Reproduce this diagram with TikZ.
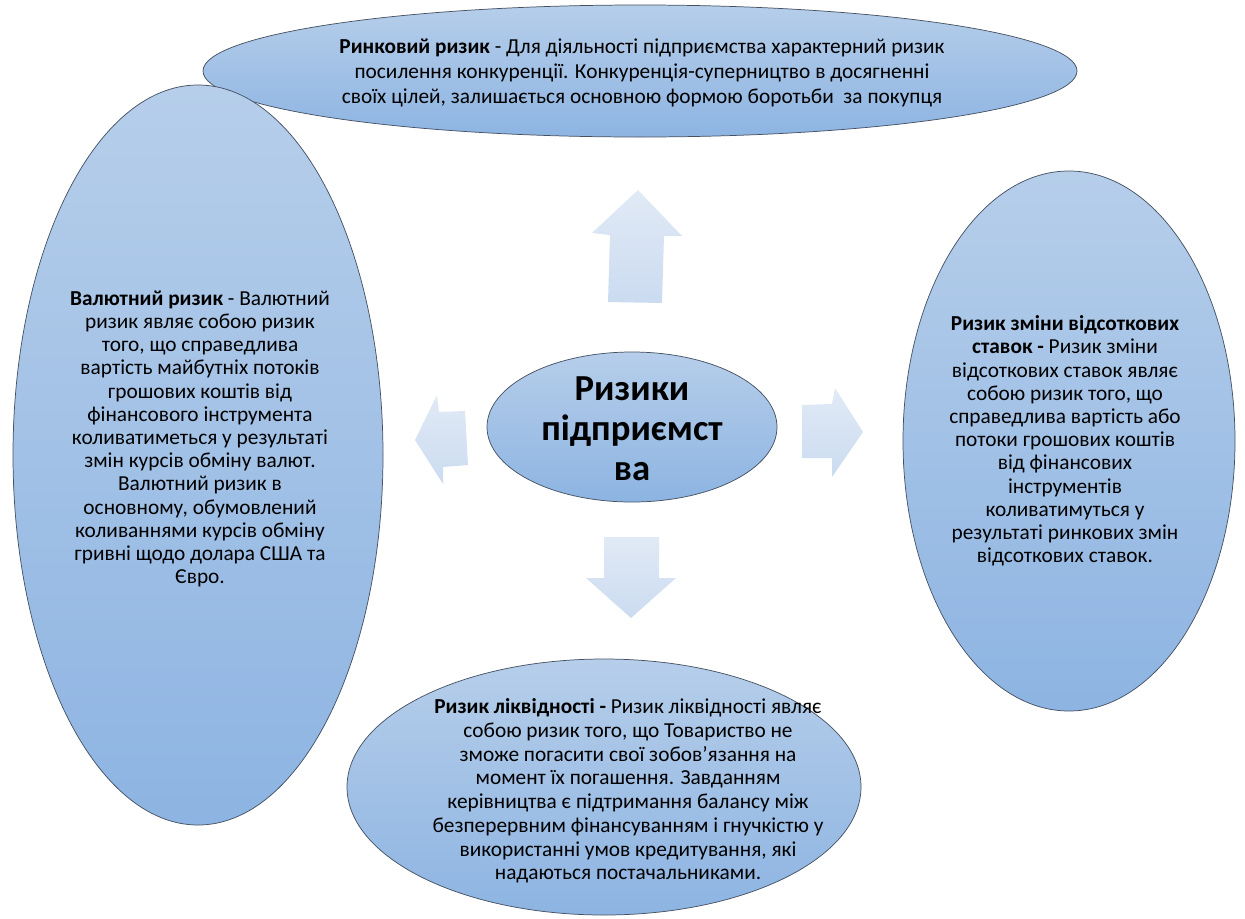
\documentclass[tikz,border=0pt]{standalone}
\usepackage{fontspec}
\setmainfont{Carlito}
\usetikzlibrary{shapes.geometric}
\definecolor{elltop}{RGB}{182,206,234}
\definecolor{ellbot}{RGB}{141,180,226}
\definecolor{ellline}{RGB}{70,82,100}
\definecolor{arrtop}{RGB}{225,234,246}
\definecolor{arrbot}{RGB}{203,219,240}
\tikzset{
  riskell/.style={ellipse, draw=ellline, line width=0.55pt, top color=elltop, bottom color=ellbot, inner sep=0pt},
  risktext/.style={align=center, inner sep=0pt, font=\fontsize{16}{17.4}\selectfont},
  bigarrow/.style={top color=arrtop, bottom color=arrbot, draw=none}
}
\begin{document}
\begin{tikzpicture}[x=0.75pt,y=-0.75pt]
\useasboundingbox (0,0) rectangle (1245,918);
% ellipses
\node[riskell, minimum width=655.5pt, minimum height=99pt] (market) at (640,71) {};
\node[riskell, minimum width=277.5pt, minimum height=555pt] (currency) at (198,455) {};
\node[riskell, minimum width=249pt, minimum height=405pt] (interest) at (1069,441) {};
\node[riskell, minimum width=385.5pt, minimum height=192pt] (liquidity) at (604,787) {};
\node[riskell, minimum width=217.5pt, minimum height=112.5pt] (center) at (632,427) {};
% block arrows
\path[bigarrow] (638,190) -- (682,236) -- (664,236) -- (662,303) -- (608,302) -- (610,235) -- (592,233) -- cycle;
\path[bigarrow] (863,432) -- (832,477) -- (832,458) -- (802,458) -- (802,405) -- (832,404) -- (835,388) -- cycle;
\path[bigarrow] (415,440) -- (437,395) -- (439,412) -- (465,411) -- (468,465) -- (443,467) -- (443,484) -- cycle;
\path[bigarrow] (631,618) -- (586,578) -- (604,578) -- (604,537) -- (659,537) -- (659,578) -- (676,578) -- cycle;
% texts
\node[risktext, font=\fontsize{16}{18.8}\selectfont] (markettext) at (642,73) {\textbf{Ринковий ризик} - Для діяльності підприємства характерний ризик\\посилення конкуренції. Конкуренція-суперництво в досягненні\\своїх цілей, залишається основною формою боротьби\ \ за покупця};
\node[risktext] (currencytext) at (200,439) {\textbf{Валютний ризик} - Валютний\\ризик являє собою ризик\\того, що справедлива\\вартість майбутніх потоків\\грошових коштів від\\фінансового інструмента\\коливатиметься у результаті\\змін курсів обміну валют.\\Валютний ризик в\\основному, обумовлений\\коливаннями курсів обміну\\гривні щодо долара США та\\Євро.};
\node[risktext] (interesttext) at (1065,441) {\textbf{Ризик зміни відсоткових}\\\textbf{ставок -} Ризик зміни\\відсоткових ставок являє\\собою ризик того, що\\справедлива вартість або\\потоки грошових коштів\\від фінансових\\інструментів\\коливатимуться у\\результаті ринкових змін\\відсоткових ставок.};
\node[risktext, font=\fontsize{16}{17.8}\selectfont] (liquiditytext) at (628,791) {\textbf{Ризик ліквідності -} Ризик ліквідності являє\\собою ризик того, що Товариство не\\зможе погасити свої зобов’язання на\\момент їх погашення. Завданням\\керівництва є підтримання балансу між\\безперервним фінансуванням і гнучкістю у\\використанні умов кредитування, які\\надаються постачальниками.};
\node[align=center, inner sep=0pt, font=\fontsize{27.5}{30}\selectfont\bfseries] (centertext) at (632,429) {Ризики\\підприємст\\ва};
\end{tikzpicture}
\end{document}
